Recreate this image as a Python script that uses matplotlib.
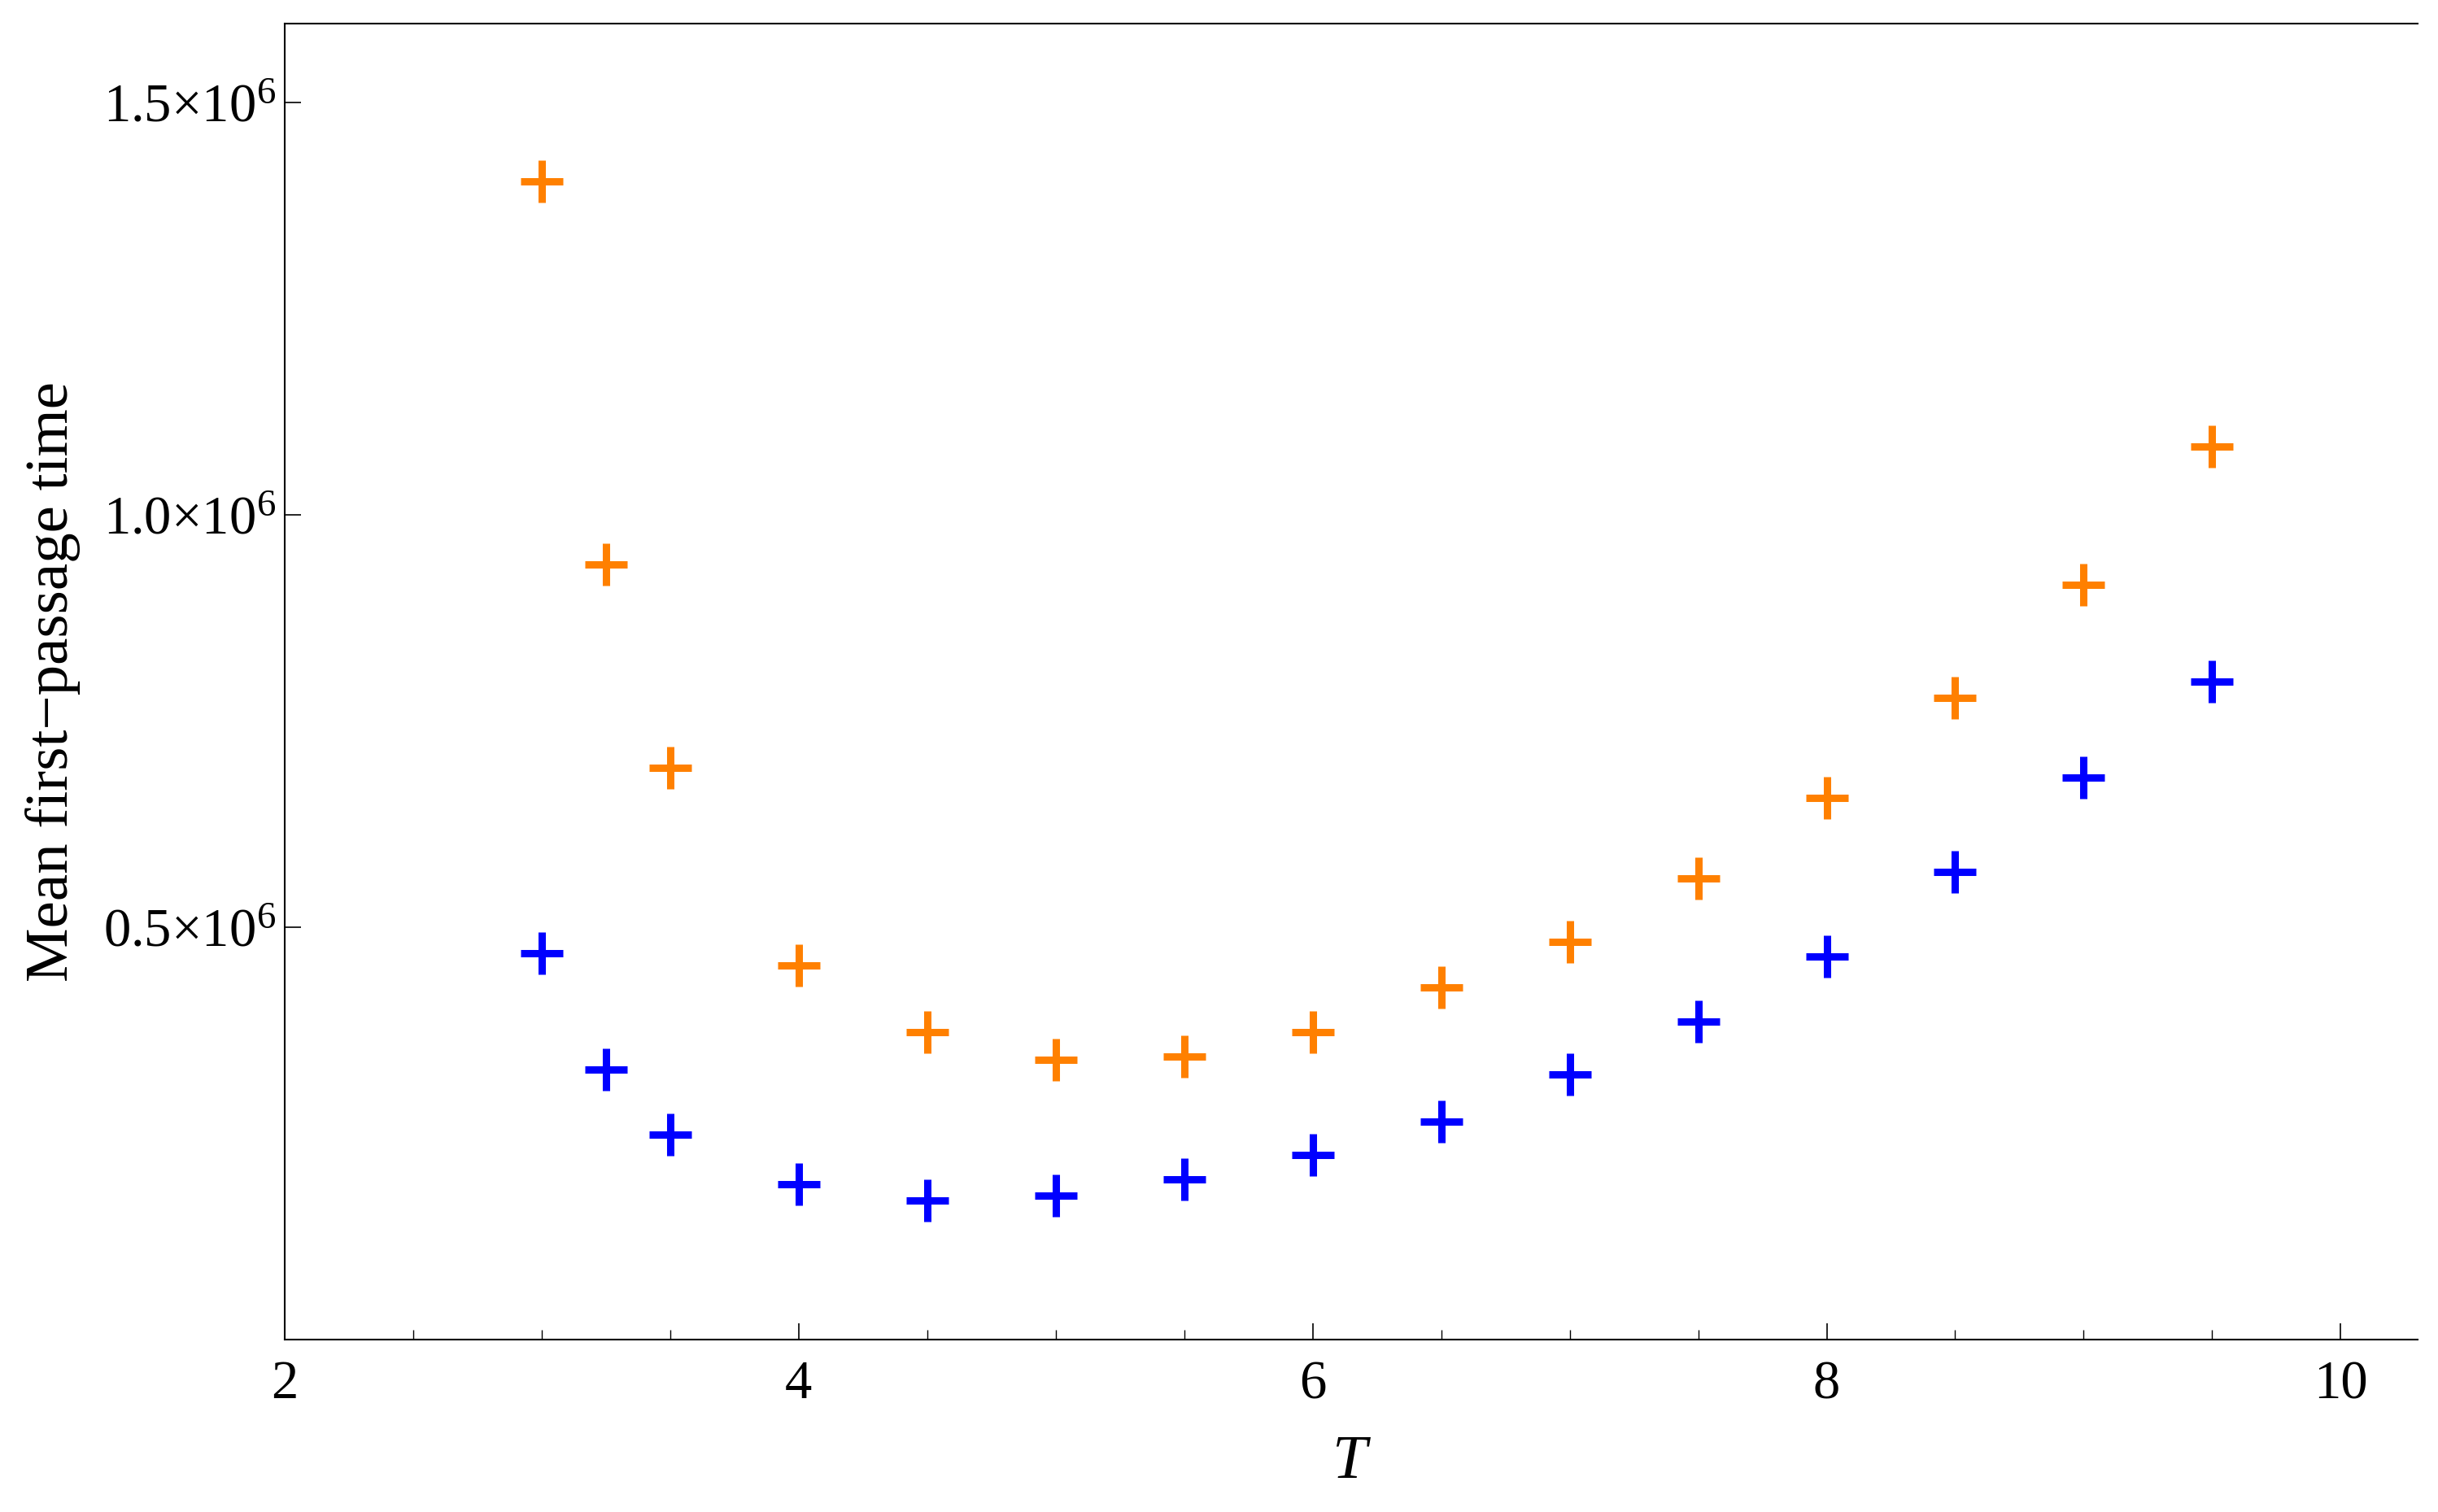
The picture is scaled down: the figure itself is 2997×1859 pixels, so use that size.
import numpy as np
import matplotlib.pyplot as plt
from matplotlib.ticker import FixedLocator, MultipleLocator

plt.rcParams['font.serif'] = ['Liberation Serif', 'DejaVu Serif']
plt.rcParams['font.family'] = 'serif'
plt.rcParams['mathtext.fontset'] = 'custom'
plt.rcParams['mathtext.rm'] = 'Liberation Serif'
plt.rcParams['mathtext.it'] = 'Liberation Serif:italic'
plt.rcParams['mathtext.default'] = 'rm'

# temperature values
T = [3, 3.25, 3.5, 4, 4.5, 5, 5.5, 6, 6.5, 7, 7.5, 8, 8.5, 9, 9.5]

# mean first-passage times
mfpt_orange = [1.405e6, 0.940e6, 0.693e6, 0.454e6, 0.373e6, 0.339e6, 0.343e6,
               0.373e6, 0.427e6, 0.482e6, 0.559e6, 0.657e6, 0.778e6, 0.915e6, 1.083e6]
mfpt_blue = [0.469e6, 0.328e6, 0.249e6, 0.188e6, 0.169e6, 0.175e6, 0.194e6,
             0.224e6, 0.264e6, 0.322e6, 0.386e6, 0.465e6, 0.567e6, 0.682e6, 0.798e6]

yticks = [0.5e6, 1.0e6, 1.5e6]
ytick_labels = [r'$0.5{\times}10^{6}$', r'$1.0{\times}10^{6}$', r'$1.5{\times}10^{6}$']
xticks = [2, 4, 6, 8, 10]

fig = plt.figure(figsize=(29.97, 18.59), dpi=100)
ax = fig.add_axes([0.1168, 0.1140, 0.9917 - 0.1168, 0.9844 - 0.1140])

ax.plot(T, mfpt_orange, linestyle='none', marker='+', markersize=37,
        markeredgewidth=6.5, color='#FF8000')
ax.plot(T, mfpt_blue, linestyle='none', marker='+', markersize=37,
        markeredgewidth=6.5, color='#0000FF')

ax.set_xlim(2, 10.3)
ax.set_ylim(0, 1.596e6)

ax.xaxis.set_major_locator(FixedLocator(xticks))
ax.xaxis.set_minor_locator(MultipleLocator(0.5))
ax.set_xticklabels([str(v) for v in xticks], fontfamily='Liberation Serif')
ax.set_yticks(yticks)
ax.set_yticklabels(ytick_labels)

ax.spines['right'].set_visible(False)
for s in ['left', 'bottom', 'top']:
    ax.spines[s].set_linewidth(1.5)

ax.tick_params(axis='both', which='major', direction='in', length=14.5,
               width=1.2, labelsize=48)
ax.tick_params(axis='x', which='minor', direction='in', length=8.6, width=1.0)
ax.tick_params(axis='x', which='major', pad=18)
ax.tick_params(axis='y', which='major', pad=8)
ax.tick_params(top=False, right=False, which='both')

ax.set_xlabel(r'$\mathit{T}$', fontsize=55, labelpad=22)
ax.set_ylabel('Mean first\u2212passage time', fontsize=54, labelpad=20,
              fontfamily='Liberation Serif')

fig.savefig('out.png', dpi=100)
